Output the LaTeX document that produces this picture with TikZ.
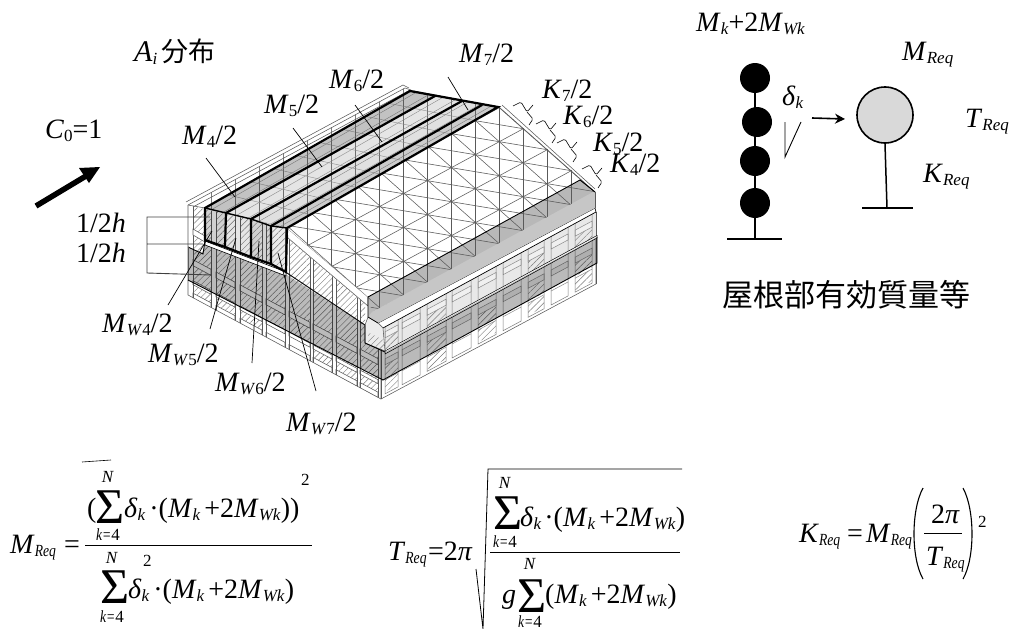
\documentclass[tikz,border=0pt]{standalone}
\usepackage{fontspec}
\setmainfont{Liberation Serif}
\newfontfamily\cjkfont{Noto Sans CJK JP}
\usetikzlibrary{patterns.meta,arrows.meta}
\definecolor{wl}{HTML}{5A5A5A}
\definecolor{hatchc}{HTML}{7A7A7A}
\newcommand{\dn}[1]{\raisebox{-3.5pt}{\fontsize{17}{17}\selectfont #1}}
\newcommand{\lm}[2]{\textit{#1}\dn{#2}}
\newcommand{\sq}[1]{\scalebox{.8}[1]{\itshape #1}}
\newcommand{\Mpair}{(\textit{M}\dn{\textit{k}}\kern4pt+2\textit{M}\dn{\textit{Wk}})}
\tikzset{
 lab/.style={anchor=base west,inner sep=0pt,font=\fontsize{28}{28}\selectfont},
 sm/.style={anchor=base west,inner sep=0pt,font=\fontsize{17}{17}\selectfont},
 smc/.style={anchor=base,inner sep=0pt,font=\fontsize{17}{17}\selectfont},
 sig/.style={anchor=base west,inner sep=0pt,font=\fontsize{50}{50}\selectfont},
 thinw/.style={draw=wl,line width=.55pt},
 hatchp/.style={pattern={Lines[angle=45,distance=4.4pt,line width=.45pt]},pattern color=hatchc},
 leader/.style={draw=black,line width=.7pt},
 heavy/.style={draw=black,line width=2.2pt,line cap=round},
 grid/.style={draw=wl,line width=.55pt},
 stemline/.style={draw=black,line width=1.5pt},
 bracep/.style={draw=black,line width=.6pt},
 ball/.style={circle,fill=black,inner sep=0pt,minimum size=30pt},
 band/.style={fill=black,fill opacity=.27},
}
\begin{document}
\begin{tikzpicture}[x=1pt,y=-1pt,
 declare function={rw(\x,\y)=\y-(\x-381)*.535; lw(\x,\y)=\y+(\x-188)*.535;}]
\useasboundingbox (0,0) rectangle (1010,629);

% ---------- front (left-hand) wall
\begin{scope}
\clip (188,205)--(287,228)--(288,238)--(365,304)--(365,343)--(385,352)--(381,399)--(188,295)--cycle;
\foreach \a/\b/\low in {193/211/1,216/235/1,240/262/1,266/285/0,289/310/0,313/332/1,336/357/1,360/378/1}{
  \path[hatchp] (\a,190) rectangle (\b,420);
  \ifnum\low=0
    \fill[white] (\a,{lw(\a,280)})--(\b,{lw(\b,280)})--(\b,420)--(\a,420)--cycle;
  \fi
  \path[thinw,fill=white] (\a,{lw(\a,257)})--(\b,{lw(\b,257)})--(\b,{lw(\b,263)})--(\a,{lw(\a,263)})--cycle;
  \path[thinw,fill=white] (\a,{lw(\a,278)})--(\b,{lw(\b,278)})--(\b,{lw(\b,282)})--(\a,{lw(\a,282)})--cycle;
  \path[thinw,fill=white] (\a,{lw(\a,290.5)})--(\b,{lw(\b,290.5)})--(\b,{lw(\b,296)})--(\a,{lw(\a,296)})--cycle;
  \draw[thinw] (\a,190)--(\a,420) (\b,190)--(\b,420);
}
\end{scope}
\draw[thinw] (188,205)--(188,295)--(381,399);
\draw[thinw] (193,208)--(193,298);

% left white sill
\path[thinw,fill=white] (193,229)--(205,236)--(205,242)--(193,235)--cycle;

% ---------- long right wall
\path[thinw,fill=white] (381,328)--(596,{rw(596,328)})--(596,{rw(596,399)})--(381,399)--cycle;
\fill[gray!18] (381,327)--(596,{rw(596,327)})--(596,{rw(596,352)})--(381,352)--cycle;
\foreach \a/\b/\h/\u in {385/398/1/1,402/420/0/0,427/446/1/1,452/471/0/0,478/496/1/0,503/521/0/0,528/544/1/1,551/568/0/0,575/592/1/1}{
  \ifnum\u=1
   \path[hatchp] (\a,{rw(\a,340)})--(\b,{rw(\b,340)})--(\b,{rw(\b,352)})--(\a,{rw(\a,352)})--cycle;
  \fi
  \ifnum\h=1
   \path[hatchp] (\a,{rw(\a,367)})--(\b,{rw(\b,367)})--(\b,{rw(\b,380)})--(\a,{rw(\a,380)})--cycle;
   \path[hatchp] (\a,{rw(\a,382)})--(\b,{rw(\b,382)})--(\b,{rw(\b,394)})--(\a,{rw(\a,394)})--cycle;
  \fi
  \path[draw=wl!70,line width=.5pt,fill=gray!12] (\a,{rw(\a,334)})--(\b,{rw(\b,334)})--(\b,{rw(\b,340)})--(\a,{rw(\a,340)})--cycle;
  \path[draw=wl!70,line width=.5pt,fill=gray!12] (\a,{rw(\a,361)})--(\b,{rw(\b,361)})--(\b,{rw(\b,367)})--(\a,{rw(\a,367)})--cycle;
  \draw[draw=wl!80,line width=.5pt] (\a,{rw(\a,327)})--(\a,{rw(\a,396)})--(\b,{rw(\b,396)})--(\b,{rw(\b,327)});
  \draw[draw=wl!70,line width=.5pt] (\a,{rw(\a,382)})--(\b,{rw(\b,382)});
}
\draw[thinw] (381,328)--(381,399);
\draw[thinw] (596,{rw(596,327)})--(596,{rw(596,399)});
% white strips
\path[fill=white,draw=black,line width=.7pt] (378,323)--(595,208)--(596,212)--(383,328)--cycle;
\path[fill=white,draw=black,line width=.5pt] (385,351)--(597,235.5)--(597,238)--(385,354)--cycle;
% notch piece
\path[thinw,fill=gray!15] (365,325)--(368,317)--(378,323)--(383,328)--(385,351)--(365,343)--cycle;
\path[hatchp] (368,332)--(383,340)--(385,351)--(368,343)--cycle;

% ---------- gable white band
\path[thinw,fill=white] (287,228)--(368,297)--(368,306)--(288,238)--cycle;

% ---------- roof
\fill[white] (188,205)--(405,88)--(499,107)--(595,192)--(372,312)--(368,297)--(287,228)--cycle;
\path[fill=black!28] (368,297)--(580,180)--(595,192)--(595,208)--(378,323)--(368,317)--cycle;
\fill[white,opacity=.2] (372,312)--(595,191)--(595,208)--(378,323)--(368,317)--cycle;

% right slope grid
\begin{scope}
\clip (287,228)--(499,107)--(595,191)--(372,312)--(368,297)--cycle;
\foreach \k in {-8,...,4}{ \draw[grid] ({499.3+24*\k},90)--({499.3+24*\k},340); }
\foreach \j in {-4,...,8}{
  \draw[grid] (280,{141.7+34*\j+219.3*13/24})--(610,{141.7+34*\j-110.7*13/24});
}
\foreach \j in {-10,...,8}{
  \draw[grid] (280,{141.7+34*\j-219.3*.885})--(610,{141.7+34*\j+110.7*.885});
}
\foreach \m in {-6,...,16}{
  \draw[grid] (280,{141.7+17*\m-219.3*.1667})--(610,{141.7+17*\m+110.7*.1667});
}
\end{scope}

% left slope (strips)
\begin{scope}
\clip (188,205)--(405,88)--(411,90)--(499,107)--(287,228)--(205,208)--cycle;
\foreach \k in {-12,...,0}{ \draw[grid,draw=wl!80] ({499.3+24*\k},60)--({499.3+24*\k},260); }
\foreach \f in {.08,.22,.38,.52,.66,.8,.92}{
  \draw[grid,draw=wl!60,line width=.4pt] ({205+\f*82},{208+\f*20})--({411+\f*88},{90+\f*17});
}
\foreach \k in {0,...,9}{
  \draw[grid,draw=wl!60,line width=.4pt] ({205+22.9*\k},{208-13.1*\k})--({287+23.6*\k},{228-13.4*\k});
}
\end{scope}
\draw[thinw] (188,205)--(405,88)--(411,90);
\draw[thinw] (193,207)--(410,90);
\draw[thinw] (186,202)--(403,85)--(409,88);
\draw[thinw] (499,107)--(595,192);
\draw[thinw] (502,105)--(595,189);
\draw[thinw] (188,205)--(205,208);

% eave edges
\draw[black,line width=.9pt] (368,297)--(580,180)--(595,192);
\draw[wl,line width=.7pt] (595,192)--(595,208);
\draw[black,line width=.7pt] (368,297)--(368,317)--(378,323);

% ---------- gray wall band
\path[band] (188,247)--(203,254)--(205,243)--(287,275)--(365,325)--(365,343)--(385,352)--(597,237)--(597,263)--(383,380)--(188,280)--cycle;
\draw[black,line width=.9pt] (188,247)--(203,254)--(205,241);
\draw[wl,line width=.6pt] (188,247)--(188,280);
\draw[black,line width=.9pt] (188,280)--(383,380)--(597,263)--(597,237);
\draw[black,line width=.9pt] (287,273)--(365,325)--(365,343)--(385,352);

% ---------- strips
\fill[black,opacity=.24] (205,208)--(226,213)--(435,96)--(410,91)--cycle;
\fill[black,opacity=.1] (226,213)--(251,219)--(462,101)--(435,96)--cycle;
\fill[black,opacity=.12] (251,219)--(271,226)--(482,105)--(462,101)--cycle;
\fill[black,opacity=.2] (271,226)--(287,228)--(498,107)--(482,105)--cycle;
% prism faces
\fill[black,opacity=.18] (205,208)--(226,213)--(225,247)--(205,240)--cycle;
\fill[black,opacity=.1] (226,213)--(251,219)--(251,257)--(225,247)--cycle;
\fill[black,opacity=.18] (251,219)--(271,226)--(271,264)--(251,257)--cycle;
\fill[black,opacity=.08] (271,226)--(287,228)--(286,272)--(271,264)--cycle;
\path[draw=black,line width=.6pt,fill=white] (205,241)--(286,272)--(286,276)--(205,245)--cycle;
\draw[heavy] (205,240)--(205,208)--(410,91)--(498,107)--(287,228)--(286,272)--(271,264)--(271,226)--(482,105);
\draw[heavy] (226,213)--(435,96) (251,219)--(462,101);
\draw[heavy] (226,213)--(225,247) (251,219)--(251,257);
\draw[heavy] (205,240)--(225,247)--(251,257)--(271,264);
\draw[black,line width=1.4pt] (205,208)--(226,213)--(251,219)--(271,226)--(287,228);

% ---------- leaders
\coordinate (m4a) at (206,158); \coordinate (m4b) at (235,197);
\coordinate (m5a) at (293,128); \coordinate (m5b) at (322,167);
\coordinate (m6a) at (355,105); \coordinate (m6b) at (382,142);
\coordinate (m7a) at (448,77);  \coordinate (m7b) at (468,110);
\coordinate (w4a) at (168,305); \coordinate (w4b) at (212,231);
\coordinate (w5a) at (210,329); \coordinate (w5b) at (236,238);
\coordinate (w6a) at (252,363); \coordinate (w6b) at (259,241);
\coordinate (w7a) at (316,391); \coordinate (w7b) at (278,253);
\foreach \p in {m4,m5,m6,m7,w4,w5,w6,w7}{ \draw[leader] (\p a)--(\p b); }

% 1/2h bracket
\coordinate (ha) at (210,217); \coordinate (hb) at (147,217);
\coordinate (hc) at (147,273); \coordinate (hd) at (211,275);
\coordinate (he) at (147,244); \coordinate (hf) at (203,244);
\draw[draw=black!75,line width=.9pt] (ha)--(hb)--(hc)--(hd) (he)--(hf);

% braces
\foreach \bx/\by in {513/106,536/124,557/143,582/169}{
  \draw[bracep,rounded corners=1.5pt] (\bx,\by)--({\bx+8},{\by-4})--({\bx+14},{\by+6})--({\bx+20},{\by-1});
  \draw[bracep,rounded corners=1.5pt] ({\bx+14},{\by+6})--({\bx+20},{\by+13})--({\bx+16},{\by+19});
}

% wind arrow
\draw[black,line width=5.5pt] (36,206)--(86,176);
\fill[black] (100,167)--(79,168)--(89,183)--cycle;

% ---------- labels on the model
\node[lab,font=\fontsize{30}{30}\selectfont] (ai) at (134,61) {\textit{A}\dn{\textit{i}}\kern4pt{\cjkfont\fontsize{27}{27}\selectfont 分布}};
\node[lab] (c0) at (45,138) {\lm{C}{0}=1};
\node[lab] (h1) at (76,232) {1/2\textit{h}};
\node[lab] (h2) at (76,262) {1/2\textit{h}};
\node[lab] (m4) at (182,144) {\lm{M}{4}/2};
\node[lab] (m5) at (264,113) {\lm{M}{5}/2};
\node[lab] (m6) at (329,88) {\lm{M}{6}/2};
\node[lab] (m7) at (459,62) {\lm{M}{7}/2};
\node[lab] (k7) at (542,98) {\lm{K}{7}/2};
\node[lab] (k6) at (563,124) {\lm{K}{6}/2};
\node[lab] (k5) at (593,151) {\lm{K}{5}/2};
\node[lab] (k4) at (610,172) {\lm{K}{4}/2};
\node[lab] (w4) at (102,332) {\lm{M}{\textit{W}4}/2};
\node[lab] (w5) at (148,362) {\lm{M}{\textit{W}5}/2};
\node[lab] (w6) at (215,391) {\lm{M}{\textit{W}6}/2};
\node[lab] (w7) at (286,431) {\lm{M}{\textit{W}7}/2};

% ---------- stick models
\coordinate (g1) at (755,239); \coordinate (t1) at (755,78);
\draw[stemline] (t1)--(g1);
\coordinate (g1l) at (727,239); \coordinate (g1r) at (782,239);
\draw[stemline] (g1l)--(g1r);
\node[ball] (b1) at (755,78) {};
\node[ball] (b2) at (757,122) {};
\node[ball] (b3) at (755,161) {};
\node[ball] (b4) at (755,203) {};
\coordinate (d1) at (785,122); \coordinate (d2) at (785,157); \coordinate (d3) at (801,122);
\draw[draw=black,line width=.9pt] (d1)--(d2)--(d3);
\node[circle,draw=black,line width=1.6pt,fill=gray!30,minimum size=56pt,inner sep=0pt] (req) at (885,115) {};
\coordinate (ar) at (812,118);
\draw[-{Stealth[length=10pt,width=10pt]},line width=1.6pt] (ar)--(845,119);
\coordinate (g2) at (887,208); \coordinate (g2l) at (862,208); \coordinate (g2r) at (913,208);
\draw[stemline] (req.south)--(g2);
\draw[stemline] (g2l)--(g2r);
\node[lab] (mw) at (696,31) {\lm{M}{\textit{k}}+2\lm{M}{\textit{Wk}}};
\node[lab] (dk) at (782,105) {\textit{δ}\dn{\textit{k}}};
\node[lab] (mr) at (902,60) {\lm{M}{\textit{Req}}};
\node[lab] (tr) at (965,127) {\lm{T}{\textit{Req}}};
\node[lab] (kr) at (923,182) {\lm{K}{\textit{Req}}};
\node[anchor=west,inner sep=0pt,font=\cjkfont\fontsize{31}{31}\selectfont] (yane) at (722,295) {屋根部有効質量等};

% ---------- formula 1
\coordinate (ov1) at (82,462); \coordinate (ov2) at (111,460);
\draw[draw=black,line width=.6pt] (ov1)--(ov2);
\node[lab] (f1a) at (10,553) {\textit{M}\dn{\sq{Req}}};
\node[lab] (f1b) at (64,553) {=};
\coordinate (f1l) at (85,545); \coordinate (f1r) at (312,545);
\draw[draw=black,line width=.8pt] (f1l)--(f1r);
\node[lab] (f1c) at (87,517) {(};
\node[sig] (f1d) at (95,523) {Σ};
\node[smc] (f1e) at (108,482) {\textit{N}};
\node[sm] (f1f) at (96,540) {\sq{k=}4};
\node[lab] (f1g) at (124,517) {\textit{δ}\dn{\textit{k}}\kern4pt·\Mpair)};
\node[sm] (f1h) at (301,485) {2};
\node[sig] (f1i) at (100,603) {Σ};
\node[smc] (f1j) at (112,563) {\textit{N}};
\node[sm] (f1k) at (100,622) {\sq{k=}4};
\node[lab] (f1m) at (128,598) {\textit{δ}\dn{\textit{k}}\kern4pt·\Mpair};
\node[sm] (f1n) at (143,566) {2};

% ---------- formula 2
\node[lab] (f2a) at (388,560) {\lm{T}{\sq{Req}}};
\node[lab] (f2b) at (428,560) {=2\textit{π}};
\coordinate (r1) at (476,569); \coordinate (r2) at (483,629); \coordinate (r3) at (488,469); \coordinate (r4) at (682,469);
\draw[draw=black,line width=.8pt] (r1)--(r2)--(r3)--(r4);
\coordinate (f2l) at (490,552); \coordinate (f2r) at (680,552);
\draw[draw=black,line width=.8pt] (f2l)--(f2r);
\node[sig] (f2c) at (493,529) {Σ};
\node[smc] (f2d) at (505,488) {\textit{N}};
\node[sm] (f2e) at (493,547) {\sq{k=}4};
\node[lab] (f2f) at (520,526) {\textit{δ}\dn{\textit{k}}\kern3pt·\Mpair};
\node[lab] (f2g) at (502,603) {\textit{g}};
\node[sig] (f2h) at (517,612) {Σ};
\node[smc] (f2i) at (530,569) {\textit{N}};
\node[sm] (f2j) at (518,627) {\sq{k=}4};
\node[lab] (f2k) at (545,603) {\Mpair};

% ---------- formula 3
\node[lab] (f3a) at (799,542) {\lm{K}{\sq{Req}}};
\node[lab] (f3b) at (847,542) {=};
\node[lab] (f3c) at (866,542) {\lm{M}{\sq{Req}}};
\coordinate (p1) at (923,488); \coordinate (p2) at (923,579);
\coordinate (p3) at (963,488); \coordinate (p4) at (963,579);
\draw[draw=black,line width=1.1pt] (p1) .. controls (911,510) and (911,558) .. (p2);
\draw[draw=black,line width=1.1pt] (p3) .. controls (975,510) and (975,558) .. (p4);
\coordinate (f3l) at (924,533); \coordinate (f3r) at (962,533);
\draw[draw=black,line width=.8pt] (f3l)--(f3r);
\node[lab] (f3d) at (931,523) {2\textit{π}};
\node[lab] (f3e) at (926,565) {\lm{T}{\sq{Req}}};
\node[sm] (f3f) at (978,527) {2};
\end{tikzpicture}
\end{document}
